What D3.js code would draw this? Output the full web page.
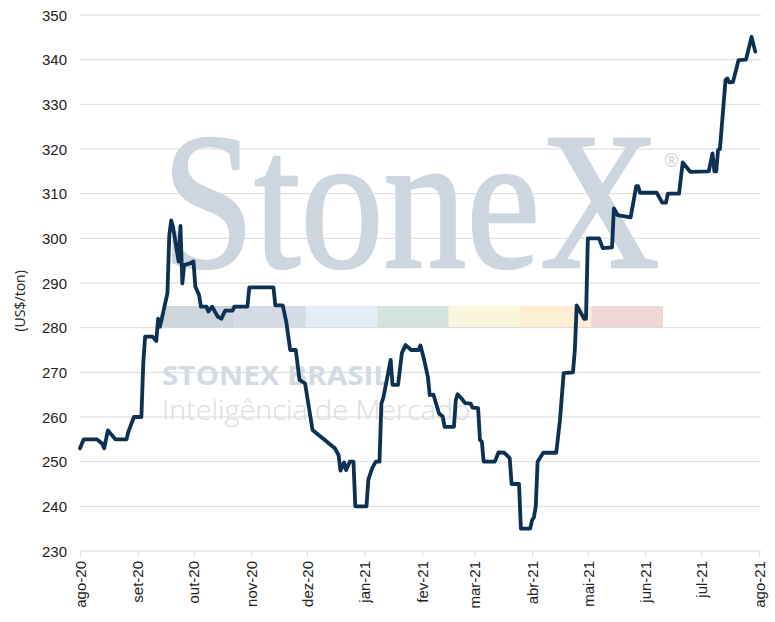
<!DOCTYPE html>
<html lang="pt">
  <head>
    <meta charset="UTF-8" />
    <title>Preço US$/ton</title>
    <script src="https://d3js.org/d3.v7.min.js"></script>
    <style>
      body {
        margin: 0;
        background: #fff;
        font-family: "Open Sans", sans-serif;
      }
      .tick text {
        fill: #222;
        font-size: 15px;
      }
    </style>
  </head>
  <body>
    <svg width="775" height="622"></svg>

    <script>
      // data
      const dates = [
        "2020-08-01", "2020-08-03", "2020-08-10", "2020-08-13", "2020-08-14", "2020-08-16",
        "2020-08-20", "2020-08-26", "2020-08-27", "2020-08-30", "2020-09-03", "2020-09-04",
        "2020-09-05", "2020-09-09", "2020-09-11", "2020-09-12", "2020-09-13", "2020-09-15",
        "2020-09-17", "2020-09-18", "2020-09-19", "2020-09-20", "2020-09-23", "2020-09-24",
        "2020-09-25", "2020-09-26", "2020-09-29", "2020-10-01", "2020-10-02", "2020-10-04",
        "2020-10-05", "2020-10-08", "2020-10-09", "2020-10-11", "2020-10-14", "2020-10-16",
        "2020-10-18", "2020-10-22", "2020-10-23", "2020-10-30", "2020-10-31", "2020-11-13",
        "2020-11-14", "2020-11-18", "2020-11-20", "2020-11-22", "2020-11-25", "2020-11-27",
        "2020-11-30", "2020-12-04", "2020-12-16", "2020-12-18", "2020-12-19", "2020-12-21",
        "2020-12-22", "2020-12-24", "2020-12-26", "2020-12-27", "2021-01-02", "2021-01-03",
        "2021-01-05", "2021-01-07", "2021-01-09", "2021-01-10", "2021-01-11", "2021-01-15",
        "2021-01-16", "2021-01-19", "2021-01-21", "2021-01-23", "2021-01-26", "2021-01-30",
        "2021-01-31", "2021-02-02", "2021-02-04", "2021-02-05", "2021-02-07", "2021-02-10",
        "2021-02-12", "2021-02-13", "2021-02-18", "2021-02-19", "2021-02-20", "2021-02-22",
        "2021-02-24", "2021-02-27", "2021-02-28", "2021-03-03", "2021-03-04", "2021-03-05",
        "2021-03-06", "2021-03-12", "2021-03-14", "2021-03-17", "2021-03-20", "2021-03-21",
        "2021-03-25", "2021-03-26", "2021-03-31", "2021-04-01", "2021-04-02", "2021-04-03",
        "2021-04-04", "2021-04-07", "2021-04-14", "2021-04-16", "2021-04-18", "2021-04-23",
        "2021-04-24", "2021-04-25", "2021-04-29", "2021-04-30", "2021-05-01", "2021-05-07",
        "2021-05-09", "2021-05-14", "2021-05-15", "2021-05-17", "2021-05-24", "2021-05-27",
        "2021-05-28", "2021-05-29", "2021-06-07", "2021-06-10", "2021-06-12", "2021-06-13",
        "2021-06-19", "2021-06-21", "2021-06-25", "2021-07-05", "2021-07-07", "2021-07-08",
        "2021-07-09", "2021-07-10", "2021-07-11", "2021-07-14", "2021-07-15", "2021-07-16",
        "2021-07-18", "2021-07-21", "2021-07-25", "2021-07-28", "2021-07-30"
      ];
      const prices = [
        253, 255, 255, 254, 253, 257,
        255, 255, 256.7, 260, 260, 272,
        278, 278, 277, 282, 280.2, 284,
        287.7, 300.7, 304, 302.6, 294.8, 302.8,
        289.9, 294, 294.4, 294.8, 289.2, 287.3,
        284.7, 284.7, 283.6, 284.7, 282.5, 282,
        283.8, 283.8, 284.7, 284.7, 289, 289,
        285, 285, 281, 275, 275, 268.3,
        267.5, 257.1, 253, 251.5, 248, 249.8,
        248.1, 250, 250, 240, 240, 246,
        248.5, 250, 250, 263, 264.2, 272.8,
        267.2, 267.2, 274.3, 276.1, 275, 275,
        276, 272.8, 269, 264.9, 265, 260.8,
        260.1, 257.8, 257.8, 263.8, 265.1, 264.2,
        263.1, 263, 262.1, 262, 254.9, 254.5,
        250, 250, 252.1, 252, 250.8, 245,
        245, 235, 235, 236.9, 237.5, 240,
        250, 252, 252, 259.3, 269.8, 270,
        275, 285, 282, 282, 300, 300,
        297.8, 298, 306.7, 305.2, 304.7, 311.7,
        311.7, 310.2, 310.2, 308, 308, 310,
        310, 317, 314.9, 315, 319, 315,
        315, 319.8, 320, 335.4, 335.8, 334.9,
        335, 339.9, 340, 345.1, 341.8
      ];
      const monthTicks = [
        "2020-08-01", "2020-09-01", "2020-10-01", "2020-11-01", "2020-12-01", "2021-01-01",
        "2021-02-01", "2021-03-01", "2021-04-01", "2021-05-01", "2021-06-01", "2021-07-01",
        "2021-08-01"
      ];
      const monthLabels = [
        "ago-20", "set-20", "out-20", "nov-20", "dez-20", "jan-21", "fev-21",
        "mar-21", "abr-21", "mai-21", "jun-21", "jul-21", "ago-21"
      ];
      const yTicks = [230, 240, 250, 260, 270, 280, 290, 300, 310, 320, 330, 340, 350];
      const yTitle = "(US$/ton)";

      const parse = d3.timeParse("%Y-%m-%d");
      const data = dates.map((d, i) => ({date: parse(d), value: prices[i]}));
      const tickDates = monthTicks.map(parse);

      const svg = d3.select("svg"),
        margin = {top: 15, right: 16, bottom: 71, left: 80},
        width = +svg.attr("width") - margin.left - margin.right,
        height = +svg.attr("height") - margin.top - margin.bottom;

      // watermark logo (sits behind the grid)
      const wm = svg.append("g").attr("class", "watermark");
      wm.append("text")
        .attr("x", 162)
        .attr("y", 267)
        .attr("textLength", 498)
        .attr("lengthAdjust", "spacingAndGlyphs")
        .style("font-family", "'Liberation Serif', serif")
        .style("font-size", "194px")
        .style("fill", "#cdd6de")
        .style("stroke", "#cdd6de")
        .style("stroke-width", 2.5)
        .text("StoneX");
      wm.append("text")
        .attr("x", 664)
        .attr("y", 167)
        .style("font-family", "'Open Sans', sans-serif")
        .style("font-size", "18px")
        .style("fill", "#cdd6de")
        .text("®");
      const bandColors = ["#cdd5dd", "#d5dce6", "#e4edf5", "#d4e3dc", "#faf5dd", "#fdefd4", "#f0d6d6"];
      wm.selectAll("rect")
        .data(bandColors)
        .join("rect")
        .attr("x", (d, i) => 163 + i * 71.4)
        .attr("y", 306)
        .attr("width", 71.6)
        .attr("height", 22)
        .attr("fill", (d) => d);
      wm.append("text")
        .attr("x", 162)
        .attr("y", 385)
        .attr("textLength", 228)
        .attr("lengthAdjust", "spacingAndGlyphs")
        .style("font-family", "'Open Sans', sans-serif")
        .style("font-weight", "700")
        .style("font-size", "27px")
        .style("fill", "#d3dae1")
        .text("STONEX BRASIL");
      wm.append("text")
        .attr("x", 162)
        .attr("y", 420)
        .attr("textLength", 308)
        .attr("lengthAdjust", "spacingAndGlyphs")
        .style("font-family", "'Open Sans', sans-serif")
        .style("font-weight", "300")
        .style("font-size", "27px")
        .style("fill", "#d8dee4")
        .text("Inteligência de Mercado");

      const g = svg.append("g").attr("transform", `translate(${margin.left},${margin.top})`);

      const x = d3.scaleTime().domain([tickDates[0], tickDates[tickDates.length - 1]]).range([0, width]);
      const y = d3.scaleLinear().domain([230, 350]).range([height, 0]);

      // horizontal grid
      g.append("g")
        .selectAll("line")
        .data(yTicks)
        .join("line")
        .attr("x1", 0)
        .attr("x2", width + 2)
        .attr("y1", (d) => y(d))
        .attr("y2", (d) => y(d))
        .attr("stroke", "#d9d9d9")
        .attr("stroke-width", 1);

      // Y Axis
      const yAxis = g.append("g").call(d3.axisLeft(y).tickValues(yTicks).tickSize(0).tickPadding(13));
      yAxis.select(".domain").remove();
      yAxis.selectAll("text").attr("dy", "0.35em");

      // X Axis
      const xAxis = g
        .append("g")
        .attr("transform", `translate(0,${height})`)
        .call(
          d3.axisBottom(x)
            .tickValues(tickDates)
            .tickSize(6)
            .tickFormat((d, i) => monthLabels[i])
        );
      xAxis.select(".domain").remove();
      xAxis.selectAll("line").attr("stroke", "#d9d9d9");
      xAxis.selectAll("text")
        .attr("transform", "rotate(-90)")
        .attr("text-anchor", "end")
        .attr("x", -10)
        .attr("y", 0)
        .attr("dy", "0.35em");

      // axis title
      svg.append("text")
        .attr("transform", `translate(20,${margin.top + y(286)}) rotate(-90)`)
        .attr("text-anchor", "middle")
        .attr("dy", "0.35em")
        .style("font-size", "14px")
        .style("fill", "#222")
        .text(yTitle);

      // price line
      const line = d3.line()
        .x((d) => x(d.date))
        .y((d) => y(d.value));

      g.append("path")
        .datum(data)
        .attr("fill", "none")
        .attr("stroke", "#0c3153")
        .attr("stroke-width", 3.8)
        .attr("stroke-linejoin", "round")
        .attr("stroke-linecap", "round")
        .attr("d", line);
    </script>
  </body>
</html>
